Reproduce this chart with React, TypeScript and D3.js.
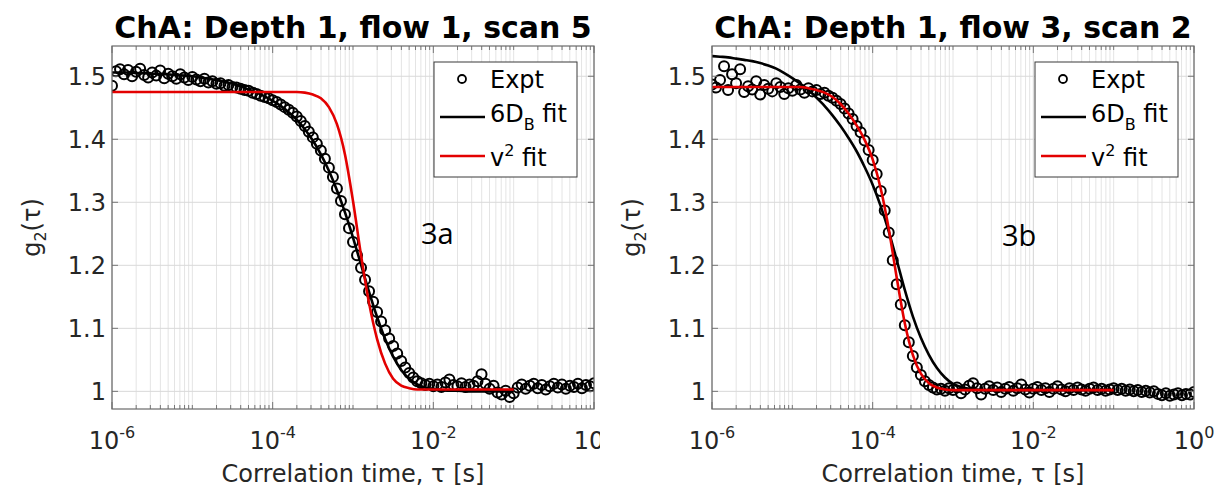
import React from "react";
import * as d3 from "d3";

// ---------- data ----------
const TAU_EXP = [
  -6.0, -5.95, -5.9, -5.85, -5.8, -5.75, -5.7, -5.65, -5.6, -5.55,
  -5.5, -5.45, -5.4, -5.35, -5.3, -5.25, -5.2, -5.15, -5.1, -5.05,
  -5.0, -4.95, -4.9, -4.85, -4.8, -4.75, -4.7, -4.65, -4.6, -4.55,
  -4.5, -4.45, -4.4, -4.35, -4.3, -4.25, -4.2, -4.15, -4.1, -4.05,
  -4.0, -3.95, -3.9, -3.85, -3.8, -3.75, -3.7, -3.65, -3.6, -3.55,
  -3.5, -3.45, -3.4, -3.35, -3.3, -3.25, -3.2, -3.15, -3.1, -3.05,
  -3.0, -2.95, -2.9, -2.85, -2.8, -2.75, -2.7, -2.65, -2.6, -2.55,
  -2.5, -2.45, -2.4, -2.35, -2.3, -2.25, -2.2, -2.15, -2.1, -2.05,
  -2.0, -1.95, -1.9, -1.85, -1.8, -1.75, -1.7, -1.65, -1.6, -1.55,
  -1.5, -1.45, -1.4, -1.35, -1.3, -1.25, -1.2, -1.15, -1.1, -1.05,
  -1.0, -0.95, -0.9, -0.85, -0.8, -0.75, -0.7, -0.65, -0.6, -0.55,
  -0.5, -0.45, -0.4, -0.35, -0.3, -0.25, -0.2, -0.15, -0.1, -0.05,
  0.0,
];

const G2_EXPT_A = [
  1.485, 1.508, 1.511, 1.503, 1.51, 1.5, 1.507, 1.512, 1.502, 1.498,
  1.506, 1.501, 1.509, 1.497, 1.504, 1.5, 1.496, 1.503, 1.498, 1.494,
  1.499, 1.495, 1.492, 1.496, 1.49, 1.492, 1.488, 1.489, 1.485, 1.486,
  1.483, 1.482, 1.48, 1.478, 1.477, 1.474, 1.472, 1.469, 1.467, 1.465,
  1.462, 1.459, 1.455, 1.451, 1.447, 1.442, 1.436, 1.429, 1.421, 1.412,
  1.403, 1.393, 1.382, 1.369, 1.355, 1.34, 1.322, 1.302, 1.281, 1.259,
  1.237, 1.216, 1.196, 1.177, 1.159, 1.142, 1.126, 1.111, 1.097, 1.084,
  1.072, 1.06, 1.048, 1.038, 1.029, 1.022, 1.016, 1.013, 1.01, 1.012,
  1.008, 1.011, 1.007, 1.014, 1.019, 1.01, 1.008, 1.013, 1.007, 1.011,
  1.009, 1.016, 1.027, 1.012, 1.004, 1.009, 0.998, 0.995, 1.001, 0.991,
  0.997, 1.006, 1.011, 1.004, 1.009, 1.012, 1.005, 1.01, 1.003, 1.008,
  1.012, 1.006, 1.011, 1.004, 1.009, 1.007, 1.012, 1.005, 1.01, 1.008,
  1.013,
];

const G2_EXPT_B = [
  1.487, 1.482, 1.494, 1.516, 1.478, 1.503, 1.489, 1.511, 1.475, 1.484,
  1.479, 1.492, 1.471, 1.486, 1.48, 1.476, 1.489, 1.483, 1.472, 1.481,
  1.477, 1.486, 1.479, 1.474, 1.481, 1.476, 1.478, 1.472, 1.474, 1.469,
  1.466, 1.461, 1.456, 1.449, 1.441, 1.432, 1.421, 1.411, 1.398, 1.383,
  1.367, 1.345, 1.318, 1.287, 1.252, 1.208, 1.17, 1.138, 1.105, 1.078,
  1.056, 1.038, 1.026, 1.016, 1.01, 1.006, 1.003, 1.004, 1.001, 1.005,
  1.002, 1.006, 0.997, 1.003, 1.009, 1.013, 1.005, 0.995, 1.004, 1.008,
  1.002, 1.006, 0.999, 1.004, 1.007, 1.001, 1.005, 1.011, 1.003, 0.998,
  1.004, 1.007, 1.002, 1.005, 0.999, 1.004, 1.008, 1.003, 1.0, 1.005,
  1.002, 1.006, 1.003, 1.001, 1.004, 1.006, 1.002, 1.004, 1.001, 1.003,
  1.005, 1.002, 1.004, 1.001, 1.003, 1.0, 1.002, 0.999, 1.001, 0.998,
  1.0, 0.996, 0.994, 0.997, 0.993, 0.995, 0.997, 0.994, 0.996, 0.995,
  0.999,
];

const FIT_EXP = [
  -6.0, -5.9, -5.8, -5.7, -5.6, -5.5, -5.4, -5.3, -5.2, -5.1,
  -5.0, -4.9, -4.8, -4.7, -4.6, -4.5, -4.4, -4.3, -4.2, -4.1,
  -4.0, -3.9, -3.8, -3.7, -3.6, -3.5, -3.4, -3.3, -3.2, -3.1,
  -3.0, -2.9, -2.8, -2.7, -2.6, -2.5, -2.4, -2.3, -2.2, -2.1,
  -2.0, -1.9, -1.8, -1.7, -1.6, -1.5, -1.4, -1.3, -1.2, -1.1,
  -1.0,
];

const FIT_6DB_A = [
  1.506, 1.506, 1.506, 1.505, 1.505, 1.504, 1.504, 1.503, 1.502, 1.501,
  1.5, 1.498, 1.496, 1.494, 1.491, 1.488, 1.484, 1.479, 1.474, 1.468,
  1.461, 1.453, 1.443, 1.431, 1.416, 1.398, 1.376, 1.35, 1.319, 1.284,
  1.244, 1.201, 1.158, 1.118, 1.083, 1.055, 1.034, 1.02, 1.011, 1.006,
  1.003, 1.002, 1.001, 1.001, 1.0, 1.0, 1.0, 1.0, 1.0, 1.0,
  1.0,
];

const FIT_V2_A = [
  1.475, 1.475, 1.475, 1.475, 1.475, 1.475, 1.475, 1.475, 1.475, 1.475,
  1.475, 1.475, 1.475, 1.475, 1.475, 1.475, 1.475, 1.475, 1.475, 1.475,
  1.475, 1.475, 1.475, 1.475, 1.474, 1.471, 1.465, 1.451, 1.424, 1.376,
  1.302, 1.216, 1.14, 1.083, 1.044, 1.02, 1.009, 1.005, 1.003, 1.003,
  1.003, 1.003, 1.003, 1.003, 1.003, 1.003, 1.003, 1.003, 1.003, 1.003,
  1.003,
];

const FIT_6DB_B = [
  1.532, 1.531, 1.53, 1.528, 1.526, 1.524, 1.521, 1.517, 1.512, 1.505,
  1.497, 1.488, 1.478, 1.466, 1.453, 1.438, 1.421, 1.402, 1.381, 1.356,
  1.328, 1.294, 1.254, 1.208, 1.161, 1.119, 1.085, 1.058, 1.037, 1.022,
  1.012, 1.007, 1.004, 1.003, 1.002, 1.002, 1.002, 1.002, 1.002, 1.002,
  1.002, 1.002, 1.002, 1.002, 1.002, 1.002, 1.002, 1.002, 1.002, 1.002,
  1.002,
];

const FIT_V2_B = [
  1.483, 1.483, 1.483, 1.483, 1.483, 1.483, 1.483, 1.483, 1.483, 1.483,
  1.483, 1.483, 1.481, 1.478, 1.474, 1.467, 1.456, 1.441, 1.422, 1.399,
  1.368, 1.322, 1.258, 1.18, 1.108, 1.058, 1.028, 1.013, 1.006, 1.003,
  1.002, 1.002, 1.002, 1.002, 1.002, 1.002, 1.002, 1.002, 1.002, 1.002,
  1.002, 1.002, 1.002, 1.002, 1.002, 1.002, 1.002, 1.002, 1.002, 1.002,
  1.002,
];

const TITLE_A = "ChA: Depth 1, flow 1, scan 5";
const TITLE_B = "ChA: Depth 1, flow 3, scan 2";
const Y_TICKS = [1, 1.1, 1.2, 1.3, 1.4, 1.5];
const Y_TICK_LABELS = ["1", "1.1", "1.2", "1.3", "1.4", "1.5"];
const X_TICK_EXPS = [-6, -4, -2, 0];
const X_DOMAIN = [1e-6, 1];
const Y_DOMAIN = [0.972, 1.548];

// ---------- layout ----------
const W = 1222;
const H = 491;
const TOP = 46;
const BOTTOM = 409;
const PW = 482;
const FONT = "DejaVu Sans, sans-serif";
const TXT = "#262626";

type PanelProps = {
  id: string;
  x0: number;
  title: string;
  expt: number[];
  fit6: number[];
  fitV: number[];
  note: string;
  noteX: number;
  noteY: number;
  legendX: number;
};

function Panel(p: PanelProps) {
  const x = d3.scaleLog().domain(X_DOMAIN).range([p.x0, p.x0 + PW]);
  const y = d3.scaleLinear().domain(Y_DOMAIN).range([BOTTOM, TOP]);

  const minor: number[] = [];
  for (let d = -6; d < 0; d++) {
    for (let m = 1; m <= 9; m++) {
      if (m === 1 && d % 2 === 0) continue;
      minor.push(m * Math.pow(10, d));
    }
  }
  const major = X_TICK_EXPS.map((e) => Math.pow(10, e));

  const fitLine = d3
    .line<number>()
    .x((_, i) => x(Math.pow(10, FIT_EXP[i])))
    .y((v) => y(v))
    .curve(d3.curveMonotoneX);

  const x1 = p.x0 + PW;
  const cx = p.x0 + PW / 2;
  const midY = (TOP + BOTTOM) / 2;
  const lx = p.legendX;

  return (
    <g>
      <defs>
        <clipPath id={`clip-${p.id}`}>
          <rect x={p.x0} y={TOP} width={PW} height={BOTTOM - TOP} />
        </clipPath>
      </defs>
      <rect x={p.x0} y={TOP} width={PW} height={BOTTOM - TOP} fill="#fff" />
      {minor.map((v, i) => (
        <line key={`mg${i}`} x1={x(v)} x2={x(v)} y1={TOP} y2={BOTTOM} stroke="#e4e4e4" strokeWidth={1} />
      ))}
      {major.map((v, i) => (
        <line key={`Mg${i}`} x1={x(v)} x2={x(v)} y1={TOP} y2={BOTTOM} stroke="#d4d4d4" strokeWidth={1} />
      ))}
      {Y_TICKS.map((v, i) => (
        <line key={`yg${i}`} x1={p.x0} x2={x1} y1={y(v)} y2={y(v)} stroke="#d9d9d9" strokeWidth={1} />
      ))}
      <g clipPath={`url(#clip-${p.id})`}>
        {p.expt.map((v, i) => (
          <circle
            key={`c${i}`}
            cx={x(Math.pow(10, TAU_EXP[i]))}
            cy={y(v)}
            r={5}
            fill="none"
            stroke="#000"
            strokeWidth={2}
          />
        ))}
        <path d={fitLine(p.fit6) || ""} fill="none" stroke="#000" strokeWidth={2.6} />
        <path d={fitLine(p.fitV) || ""} fill="none" stroke="#e30000" strokeWidth={2.6} />
      </g>
      {minor.map((v, i) => (
        <g key={`mt${i}`}>
          <line x1={x(v)} x2={x(v)} y1={BOTTOM} y2={BOTTOM - 4} stroke="#777" />
          <line x1={x(v)} x2={x(v)} y1={TOP} y2={TOP + 4} stroke="#777" />
        </g>
      ))}
      {major.map((v, i) => (
        <g key={`Mt${i}`}>
          <line x1={x(v)} x2={x(v)} y1={BOTTOM} y2={BOTTOM - 7} stroke="#777" />
          <line x1={x(v)} x2={x(v)} y1={TOP} y2={TOP + 7} stroke="#777" />
        </g>
      ))}
      {Y_TICKS.map((v, i) => (
        <g key={`yt${i}`}>
          <line x1={p.x0} x2={p.x0 + 6} y1={y(v)} y2={y(v)} stroke="#777" />
          <line x1={x1} x2={x1 - 6} y1={y(v)} y2={y(v)} stroke="#777" />
        </g>
      ))}
      <rect x={p.x0} y={TOP} width={PW} height={BOTTOM - TOP} fill="none" stroke="#6a6a6a" strokeWidth={1.2} />
      {Y_TICKS.map((v, i) => (
        <text key={`yl${i}`} x={p.x0 - 6} y={y(v) + 8.5} textAnchor="end" fontFamily={FONT} fontSize={24} fill={TXT}>
          {Y_TICK_LABELS[i]}
        </text>
      ))}
      {X_TICK_EXPS.map((e, i) => (
        <text key={`xl${i}`} x={x(Math.pow(10, e))} y={449} textAnchor="middle" fontFamily={FONT} fontSize={24} fill={TXT}>
          10
          <tspan fontSize={16} dy={-11}>
            {e === 0 ? "0" : `-${Math.abs(e)}`}
          </tspan>
        </text>
      ))}
      <text x={cx} y={482} textAnchor="middle" fontFamily={FONT} fontSize={24} fill={TXT}>
        Correlation time, τ [s]
      </text>
      <text
        transform={`translate(${p.x0 - 72},${midY}) rotate(-90)`}
        textAnchor="middle"
        fontFamily={FONT}
        fontSize={24}
        fill={TXT}
      >
        g<tspan fontSize={16} dy={6}>2</tspan>
        <tspan dy={-6}>(τ)</tspan>
      </text>
      <text x={cx} y={38} textAnchor="middle" fontFamily={FONT} fontWeight="bold" fontSize={30} fill="#000">
        {p.title}
      </text>
      <rect x={lx} y={62} width={143} height={115} fill="#fff" stroke="#3a3a3a" strokeWidth={1} />
      <circle cx={lx + 28} cy={79} r={4} fill="none" stroke="#000" strokeWidth={1.8} />
      <text x={lx + 56} y={88} fontFamily={FONT} fontSize={24} fill="#000">
        Expt
      </text>
      <line x1={lx + 6} x2={lx + 51} y1={117} y2={117} stroke="#000" strokeWidth={2.6} />
      <text x={lx + 56} y={122} fontFamily={FONT} fontSize={24} fill="#000">
        6D<tspan fontSize={16} dy={8}>B</tspan>
        <tspan dy={-8}> fit</tspan>
      </text>
      <line x1={lx + 6} x2={lx + 51} y1={156} y2={156} stroke="#e30000" strokeWidth={2.6} />
      <text x={lx + 56} y={166} fontFamily={FONT} fontSize={24} fill="#000">
        v<tspan fontSize={16} dy={-10}>2</tspan>
        <tspan dy={10}> fit</tspan>
      </text>
      <text x={p.noteX} y={p.noteY} fontFamily="Open Sans, sans-serif" fontSize={29} fill="#000">
        {p.note}
      </text>
    </g>
  );
}

export default function App() {
  return (
    <svg
      width={W}
      height={H}
      style={{ display: "block", position: "absolute", left: 0, top: 0, background: "#fff" }}
    >
      <defs>
        <clipPath id="leftHalf">
          <rect x={0} y={0} width={600} height={H} />
        </clipPath>
      </defs>
      <rect x={0} y={0} width={W} height={H} fill="#fff" />
      <g clipPath="url(#leftHalf)">
        <Panel
          id="a"
          x0={112}
          title={TITLE_A}
          expt={G2_EXPT_A}
          fit6={FIT_6DB_A}
          fitV={FIT_V2_A}
          note="3a"
          noteX={421}
          noteY={244}
          legendX={434}
        />
      </g>
      <Panel
        id="b"
        x0={712}
        title={TITLE_B}
        expt={G2_EXPT_B}
        fit6={FIT_6DB_B}
        fitV={FIT_V2_B}
        note="3b"
        noteX={1002}
        noteY={246}
        legendX={1035}
      />
    </svg>
  );
}
